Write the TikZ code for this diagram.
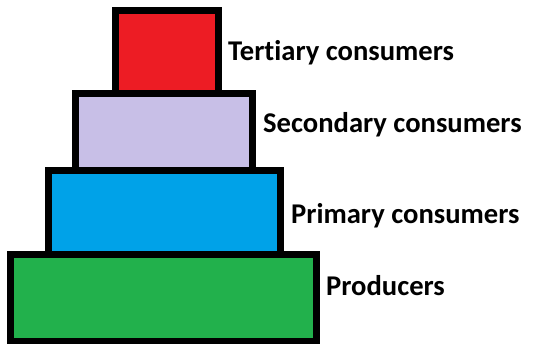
\documentclass[tikz,border=0pt]{standalone}
\usepackage{fontspec}
\setmainfont{Carlito}[Ligatures={NoCommon}]
\usepackage{tikz}
\tikzset{
  level/.style={draw=black,line width=7pt,inner sep=0pt,rectangle},
  lbl/.style={anchor=base west,inner sep=0pt,font=\fontsize{28.6}{32}\selectfont\bfseries}
}
\begin{document}
\begin{tikzpicture}[x=1pt,y=-1pt]
\useasboundingbox (0,0) rectangle (534,344);
\node[level,fill={rgb,255:red,237;green,28;blue,36},minimum width=103pt,minimum height=82.5pt] (tert) at (167,52.25) {};
\node[level,fill={rgb,255:red,200;green,191;blue,231},minimum width=177.5pt,minimum height=77pt] (sec) at (163.75,132) {};
\node[level,fill={rgb,255:red,0;green,162;blue,232},minimum width=232.5pt,minimum height=83.5pt] (prim) at (164.25,212.25) {};
\node[level,fill={rgb,255:red,34;green,177;blue,76},minimum width=306pt,minimum height=87pt] (prod) at (163.5,297.5) {};
% labels
\node[lbl] (tertlbl) at (228,61) {Tertiary consumers};
\node[lbl] (seclbl) at (263,133) {Secondary consumers};
\node[lbl] (primlbl) at (291,223) {Primary consumers};
\node[lbl] (prodlbl) at (326,295) {Producers};
\end{tikzpicture}
\end{document}
